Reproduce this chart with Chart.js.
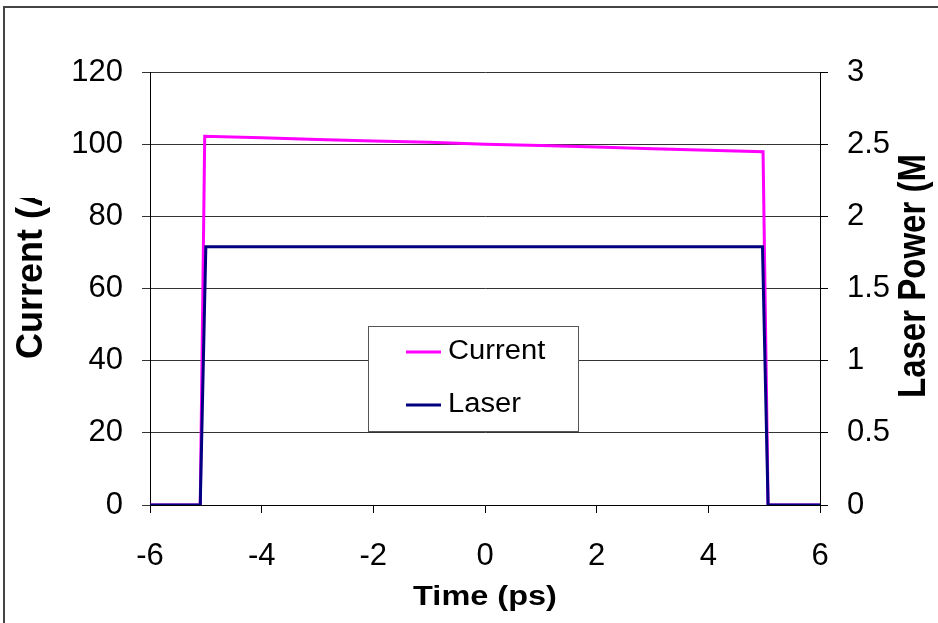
<!DOCTYPE html>
<html><head><meta charset="utf-8">
<script src="https://cdn.jsdelivr.net/npm/chart.js@4/dist/chart.umd.min.js"></script>
<style>html,body{margin:0;padding:0;background:#fff;overflow:hidden}canvas{display:block}</style>
</head><body><canvas id="c" width="938" height="623"></canvas>
<script>
const seriesNames = ['Current', 'Laser'];
const currentTime = [-6, -5.1, -5.02, -4, -3, -2, -1, 0, 1, 2, 3, 4, 4.98, 5.07, 6];
const currentValues = [0, 0, 102.2, 101.8, 101.3, 100.9, 100.5, 100.0, 99.6, 99.2, 98.7, 98.3, 97.9, 0, 0];
const laserTime = [-6, -5.1, -5.0, 4.97, 5.07, 6];
const laserValues = [0, 0, 1.79, 1.79, 0, 0];
const timeTicks = [-6, -4, -2, 0, 2, 4, 6];
const currentTicks = [0, 20, 40, 60, 80, 100, 120];
const powerTicks = [0, 0.5, 1, 1.5, 2, 2.5, 3];
const xTitle = 'Time (ps)';
const yTitle = 'Current (A)';
const y2Title = 'Laser Power (MW)';
const seriesColors = ['#FF00FF', '#000080'];

const FONT = '"Liberation Sans", Arial, sans-serif';

function drawText(ctx, text, x, y, font, sx, align, baseline, rot, clip) {
  ctx.save();
  if (clip) { ctx.beginPath(); ctx.rect(clip[0], clip[1], clip[2], clip[3]); ctx.clip(); }
  ctx.translate(x, y);
  ctx.scale(sx, 1);
  if (rot) ctx.rotate(rot);
  ctx.font = font; ctx.textAlign = align; ctx.textBaseline = baseline; ctx.fillStyle = '#000';
  ctx.fillText(text, 0, 0);
  ctx.restore();
}

const decor = {
  id: 'decor',
  beforeDraw(chart) {
    const ctx = chart.ctx;
    ctx.save(); ctx.fillStyle = '#fff'; ctx.fillRect(0, 0, chart.width, chart.height); ctx.restore();
  },
  afterDraw(chart) {
    const ctx = chart.ctx;
    ctx.save();
    ctx.strokeStyle = '#444'; ctx.lineWidth = 2;
    ctx.beginPath(); ctx.moveTo(4, chart.height); ctx.lineTo(4, 7); ctx.lineTo(chart.width, 7); ctx.stroke();
    ctx.restore();
    drawText(ctx, xTitle, 485, 597, 'bold 28px ' + FONT, 1.16, 'center', 'middle', 0);
    drawText(ctx, yTitle, 32, 359, 'bold 36px ' + FONT, 1.05, 'left', 'middle', -Math.PI / 2, [0, 198, 150, 425]);
    drawText(ctx, y2Title, 915, 398, 'bold 33px ' + FONT, 1.15, 'left', 'middle', -Math.PI / 2, [830, 155, 108, 468]);
    const bx = 368, by = 326, bw = 210, bh = 105;
    ctx.save();
    ctx.fillStyle = '#fff'; ctx.fillRect(bx, by, bw, bh);
    ctx.strokeStyle = '#555'; ctx.lineWidth = 1; ctx.strokeRect(bx + 0.5, by + 0.5, bw, bh);
    const ys = [352, 405];
    chart.data.datasets.forEach((ds, i) => {
      ctx.strokeStyle = ds.borderColor; ctx.lineWidth = 3;
      ctx.beginPath(); ctx.moveTo(406, ys[i]); ctx.lineTo(441, ys[i]); ctx.stroke();
      drawText(ctx, ds.label, 448, ys[i], '27px ' + FONT, 1.08, 'left', 'middle', 0);
    });
    ctx.restore();
  }
};

const tickFont = { family: FONT, size: 31 };

new Chart(document.getElementById('c'), {
  type: 'line',
  data: {
    datasets: [
      { label: seriesNames[0], data: currentTime.map((t, i) => ({ x: t, y: currentValues[i] })), borderColor: seriesColors[0], backgroundColor: seriesColors[0], borderWidth: 3, pointRadius: 0, tension: 0, yAxisID: 'y', order: 2 },
      { label: seriesNames[1], data: laserTime.map((t, i) => ({ x: t, y: laserValues[i] })), borderColor: seriesColors[1], backgroundColor: seriesColors[1], borderWidth: 3, pointRadius: 0, tension: 0, yAxisID: 'y2', order: 1 }
    ]
  },
  options: {
    responsive: false, animation: false, devicePixelRatio: 1,
    layout: { padding: { top: 72, left: 0, right: 0, bottom: 0 } },
    plugins: { legend: { display: false }, tooltip: { enabled: false } },
    scales: {
      x: {
        type: 'linear', min: -6, max: 6,
        afterBuildTicks: s => { s.ticks = timeTicks.map(v => ({ value: v })); },
        afterFit: s => { s.height = 118; },
        ticks: { font: tickFont, color: '#000', padding: 25, maxRotation: 0, autoSkip: false, callback: v => String(v) },
        grid: { drawOnChartArea: false, drawTicks: true, tickLength: 8, color: '#000' },
        border: { display: true, color: '#000', width: 1 }
      },
      y: {
        position: 'left', min: 0, max: 120,
        afterBuildTicks: s => { s.ticks = currentTicks.map(v => ({ value: v })); },
        afterFit: s => { s.width = 150; },
        ticks: { font: tickFont, color: '#000', padding: 19, callback: v => String(v) },
        grid: { color: '#333', tickLength: 8, lineWidth: 1 },
        border: { display: true, color: '#000', width: 1 }
      },
      y2: {
        position: 'right', min: 0, max: 3,
        afterBuildTicks: s => { s.ticks = powerTicks.map(v => ({ value: v })); },
        afterFit: s => { s.width = 118; },
        ticks: { font: tickFont, color: '#000', padding: 19, callback: v => String(v) },
        grid: { drawOnChartArea: false, tickLength: 8, color: '#000' },
        border: { display: true, color: '#000', width: 1 }
      }
    }
  },
  plugins: [decor]
});
</script>
</body></html>
